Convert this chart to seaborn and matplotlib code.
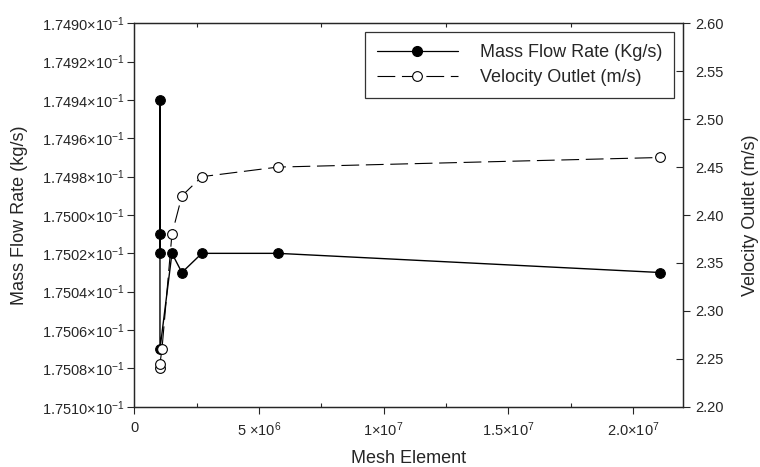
import matplotlib
matplotlib.use("Agg")
import matplotlib.pyplot as plt
from matplotlib.ticker import FixedLocator, FuncFormatter, FixedFormatter
from matplotlib.lines import Line2D
import seaborn as sns
import pandas as pd

# Mesh independence study: mass flow rate and outlet velocity vs. mesh size
mesh_mass = [1.03e6, 1.03e6, 1.03e6, 1.03e6, 1.51e6, 1.91e6, 2.71e6, 5.76e6, 21.1e6]
mass_flow = [0.17502, 0.17501, 0.17494, 0.17507, 0.17502, 0.17503, 0.17502, 0.17502, 0.17503]

mesh_vel = [1.03e6, 1.03e6, 1.11e6, 1.51e6, 1.91e6, 2.71e6, 5.76e6, 21.1e6]
velocity = [2.24, 2.245, 2.26, 2.38, 2.42, 2.44, 2.45, 2.46]

x_ticks = [0, 5e6, 1e7, 1.5e7, 2e7]
x_tick_labels = ["0", "5 ×10$^6$", "1×10$^7$", "1.5×10$^7$", "2.0×10$^7$"]
mass_ticks = [0.17490, 0.17492, 0.17494, 0.17496, 0.17498, 0.17500,
              0.17502, 0.17504, 0.17506, 0.17508, 0.17510]
vel_major = [2.20, 2.30, 2.40, 2.50, 2.60]
vel_minor = [2.25, 2.35, 2.45, 2.55]

sns.set_style("ticks")
plt.rcParams["font.family"] = ["Liberation Sans", "DejaVu Sans"]
plt.rcParams["mathtext.fontset"] = "custom"
plt.rcParams["mathtext.rm"] = "Liberation Sans"
plt.rcParams["mathtext.it"] = "Liberation Sans"
plt.rcParams["axes.linewidth"] = 0.9

df_m = pd.DataFrame({"mesh": mesh_mass, "mass": mass_flow})
df_v = pd.DataFrame({"mesh": mesh_vel, "vel": velocity})

fig = plt.figure(figsize=(7.6, 4.67), dpi=100)
ax = fig.add_axes([0.1767, 0.1291, 0.8983 - 0.1767, 0.9501 - 0.1291])
ax2 = ax.twinx()

sns.lineplot(data=df_m, x="mesh", y="mass", ax=ax, sort=False, estimator=None,
             color="black", linewidth=1.0, marker="o", markersize=7,
             markerfacecolor="black", markeredgecolor="black", zorder=3)
sns.lineplot(data=df_v, x="mesh", y="vel", ax=ax2, sort=False, estimator=None,
             color="black", linewidth=0.8, marker="o", markersize=7,
             markerfacecolor="white", markeredgecolor="black",
             markeredgewidth=0.8, dashes=False, zorder=4)
for ln in ax2.get_lines():
    ln.set_dashes((16, 6))

# x axis
ax.set_xlim(0, 2.2e7)
ax.xaxis.set_major_locator(FixedLocator(x_ticks))
ax.xaxis.set_major_formatter(FixedFormatter(x_tick_labels))
ax.xaxis.set_minor_locator(FixedLocator([2.5e6, 7.5e6, 1.25e7, 1.75e7]))
ax.tick_params(axis="x", which="major", direction="out", length=5, width=0.8,
               labelsize=10.5, pad=5)
ax.tick_params(axis="x", which="minor", direction="in", length=3, width=0.8,
               top=True, bottom=True)
ax.set_xlabel("Mesh Element", fontsize=13, labelpad=8)

# left axis (inverted)
ax.set_ylim(0.17510, 0.17490)
ax.yaxis.set_major_locator(FixedLocator(mass_ticks))
ax.yaxis.set_major_formatter(FuncFormatter(lambda v, p: f"{v*10:.4f}×10$^{{-1}}$"))
ax.tick_params(axis="y", which="major", direction="out", length=5, width=0.8,
               labelsize=10.5, pad=2)
ax.set_ylabel("Mass Flow Rate (kg/s)", fontsize=13, labelpad=10)

# right axis
ax2.set_ylim(2.20, 2.60)
ax2.yaxis.set_major_locator(FixedLocator(vel_major))
ax2.yaxis.set_minor_locator(FixedLocator(vel_minor))
ax2.yaxis.set_major_formatter(FuncFormatter(lambda v, p: f"{v:.2f}"))
ax2.yaxis.set_minor_formatter(FuncFormatter(lambda v, p: f"{v:.2f}"))
ax2.tick_params(axis="y", which="major", direction="out", length=5, width=0.8,
                labelsize=10.5, pad=4)
ax2.tick_params(axis="y", which="minor", direction="in", length=5, width=0.8,
                labelsize=10.5, pad=9, labelright=True)
ax2.set_ylabel("Velocity Outlet (m/s)", fontsize=13, labelpad=13)

for a in (ax, ax2):
    for s in a.spines.values():
        s.set_linewidth(0.9)
        s.set_visible(True)

handles = [
    Line2D([], [], color="black", linewidth=0.9, marker="o", markersize=7,
           markerfacecolor="black", markeredgecolor="black"),
    Line2D([], [], color="black", linewidth=0.8, marker="o", markersize=7,
           markerfacecolor="white", markeredgecolor="black", markeredgewidth=0.8,
           dashes=(16, 6)),
]
leg = ax2.legend(handles, ["Mass Flow Rate (Kg/s)", "Velocity Outlet (m/s)"],
                 loc="upper right", fontsize=13, frameon=True, fancybox=False,
                 handlelength=4.5, numpoints=1, borderaxespad=0.5,
                 borderpad=0.65, labelspacing=0.45, handletextpad=1.2)
leg.get_frame().set_edgecolor("black")
leg.get_frame().set_linewidth(0.9)

fig.savefig("out.png", dpi=100, facecolor="white")
